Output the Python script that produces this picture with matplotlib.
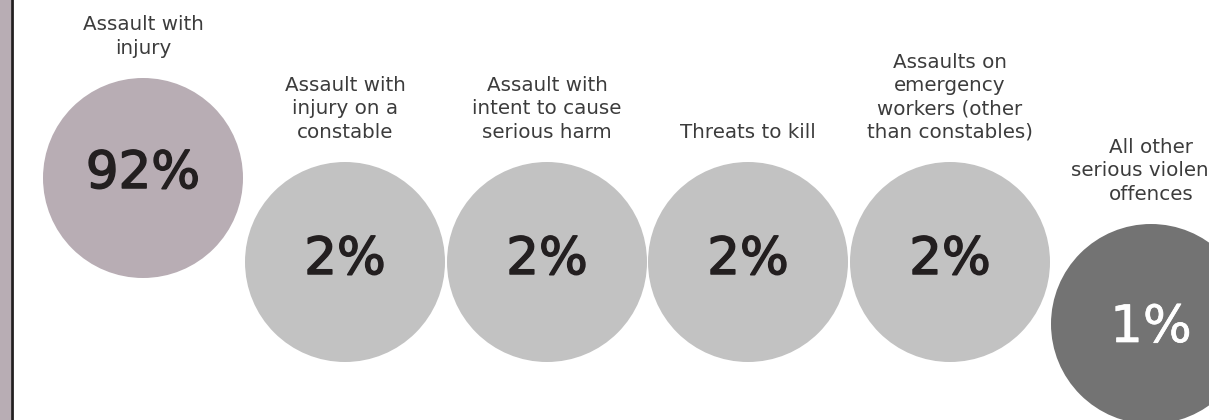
import matplotlib.pyplot as plt
import matplotlib.patheffects as pe
from matplotlib.patches import Circle, Rectangle

# Data
categories = ['Assault with\ninjury',
              'Assault with\ninjury on a\nconstable',
              'Assault with\nintent to cause\nserious harm',
              'Threats to kill',
              'Assaults on\nemergency\nworkers (other\nthan constables)',
              'All other\nserious violence\noffences']
shares = [92, 2, 2, 2, 2, 1]

# Layout (pixel coordinates) and styling
x_centers = [143, 345, 547, 748, 950, 1151]
y_centers = [178, 262, 262, 262, 262, 324]
text_shift = [-4, -2, -2, -2, -2, 4]
radius = 100
fill_colors = ['#b8adb4', '#c2c2c2', '#c2c2c2', '#c2c2c2', '#c2c2c2', '#737373']
text_colors = ['#231f20', '#231f20', '#231f20', '#231f20', '#231f20', '#ffffff']

plt.rcParams['font.family'] = ['DejaVu Sans']

fig = plt.figure(figsize=(12.09, 4.2), dpi=100)
ax = fig.add_axes([0, 0, 1, 1])
ax.set_xlim(0, 1209)
ax.set_ylim(420, 0)
ax.set_aspect('equal')
ax.axis('off')

# Left side strip
ax.add_patch(Rectangle((0, 0), 11, 420, color='#b8adb4', lw=0))
ax.plot([12, 12], [0, 420], color='#231f20', lw=2)

for label, val, x, y, dy, fc, tc in zip(categories, shares, x_centers, y_centers,
                                          text_shift, fill_colors, text_colors):
    ax.add_patch(Circle((x, y), radius, color=fc, lw=0))
    stroke = 1.1 if tc != '#ffffff' else 0.5
    ax.text(x, y + dy, f'{val}%', ha='center', va='center', fontsize=37,
            color=tc,
            path_effects=[pe.withStroke(linewidth=stroke, foreground=tc)])
    ax.text(x, y - radius - 20, label, ha='center', va='bottom', fontsize=14.3,
            color='#3c3c3c', linespacing=1.3)

fig.savefig('out.png', dpi=100)
